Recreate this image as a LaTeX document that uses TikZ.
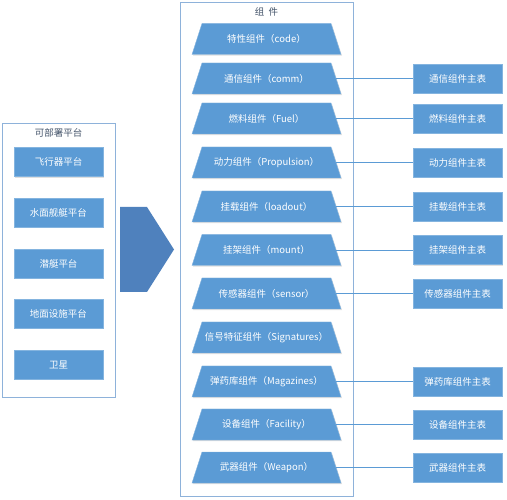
\documentclass[tikz,border=0pt]{standalone}
\usepackage{fontspec}
\setmainfont{Noto Sans CJK SC}
\usetikzlibrary{shadows}

\definecolor{boxblue}{HTML}{5B9BD5}
\definecolor{frameblue}{HTML}{8EB2DA}
\definecolor{arrowblue}{HTML}{4F81BD}
\definecolor{titlegray}{HTML}{44546A}

\tikzset{
  boxshadow/.style={drop shadow={shadow xshift=1pt, shadow yshift=-1.2pt, opacity=0.25}},
  platform/.style={rectangle, fill=boxblue, draw=boxblue!75!white, text=white,
    minimum width=89pt, minimum height=29pt, inner sep=1pt,
    font=\fontsize{9.5}{11}\selectfont, boxshadow},
  table/.style={platform},
  partshape/.pic={
    \fill[boxblue, draw=boxblue!75!white, boxshadow]
      (-64.5,-15.5) -- (64.5,-15.5) -- (74.5,15.5) -- (-74.5,15.5) -- cycle;
  },
  part/.style={rectangle, minimum width=139pt, minimum height=31pt, inner sep=0pt,
    text=white, font=\fontsize{9.5}{11}\selectfont},
  frame/.style={draw=frameblue, fill=white, line width=0.8pt},
  caption/.style={text=titlegray, font=\fontsize{9.5}{11}\selectfont},
  link/.style={draw=boxblue, line width=0.8pt}
}

\begin{document}
\begin{tikzpicture}[x=1pt, y=-1pt]
\useasboundingbox (0,0) rectangle (507,500);

% Platform frame
\draw[frame] (2,123) rectangle (115,397);
\node[caption] (platforms) at (58.5,133) {可部署平台};

\node[platform] (aircraft) at (58.5,162)   {飞行器平台};
\node[platform] (surface)  at (58.5,212.5) {水面舰艇平台};
\node[platform] (sub)      at (58.5,263.5) {潜艇平台};
\node[platform] (ground)   at (58.5,313.5) {地面设施平台};
\node[platform] (sat)      at (58.5,364.5) {卫星};

% Big arrow
\fill[arrowblue] (120,207) -- (147,207) -- (174,249.5) -- (147,292) -- (120,292) -- cycle;

% Component frame
\draw[frame] (180,2) rectangle (353,496);
\node[caption] (parts) at (266.5,12) {组\ \ 件};

% Component trapezoids
\pic at (266.5,39)    {partshape};
\pic at (266.5,78.5)  {partshape};
\pic at (266.5,118.5) {partshape};
\pic at (266.5,162.5) {partshape};
\pic at (266.5,206.5) {partshape};
\pic at (266.5,250)   {partshape};
\pic at (266.5,293.5) {partshape};
\pic at (266.5,337.5) {partshape};
\pic at (266.5,381.5) {partshape};
\pic at (266.5,424.5) {partshape};
\pic at (266.5,467.5) {partshape};

\node[part] (code)   at (266.5,39)    {特性组件（code）};
\node[part] (comm)   at (266.5,78.5)  {通信组件（comm）};
\node[part] (fuel)   at (266.5,118.5) {燃料组件（Fuel）};
\node[part] (prop)   at (266.5,162.5) {动力组件（Propulsion）};
\node[part] (load)   at (266.5,206.5) {挂载组件（loadout）};
\node[part] (mount)  at (266.5,250)   {挂架组件（mount）};
\node[part] (sensor) at (266.5,293.5) {传感器组件（sensor）};
\node[part] (sig)    at (266.5,337.5) {信号特征组件（Signatures）};
\node[part] (mag)    at (266.5,381.5) {弹药库组件（Magazines）};
\node[part] (fac)    at (266.5,424.5) {设备组件（Facility）};
\node[part] (weapon) at (266.5,467.5) {武器组件（Weapon）};

% Main tables
\node[table] (commtab)   at (457.5,78.5)  {通信组件主表};
\node[table] (fueltab)   at (457.5,118.5) {燃料组件主表};
\node[table] (proptab)   at (457.5,162.5) {动力组件主表};
\node[table] (loadtab)   at (457.5,206.5) {挂载组件主表};
\node[table] (mounttab)  at (457.5,250)   {挂架组件主表};
\node[table] (sensortab) at (457.5,293.5) {传感器组件主表};
\node[table] (magtab)    at (457.5,381.5) {弹药库组件主表};
\node[table] (factab)    at (457.5,424.5) {设备组件主表};
\node[table] (weapontab) at (457.5,467.5) {武器组件主表};

% Links
\draw[link] (comm.east) -- (commtab.west);
\draw[link] (fuel.east) -- (fueltab.west);
\draw[link] (prop.east) -- (proptab.west);
\draw[link] (load.east) -- (loadtab.west);
\draw[link] (mount.east) -- (mounttab.west);
\draw[link] (sensor.east) -- (sensortab.west);
\draw[link] (mag.east) -- (magtab.west);
\draw[link] (fac.east) -- (factab.west);
\draw[link] (weapon.east) -- (weapontab.west);

\end{tikzpicture}
\end{document}
